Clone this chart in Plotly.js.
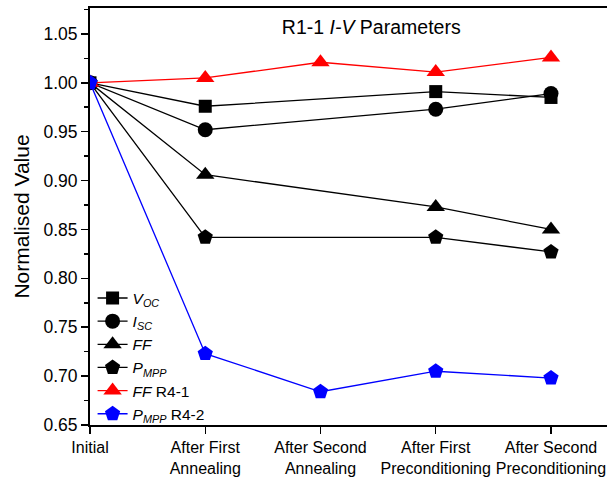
<!DOCTYPE html>
<html>
<head>
<meta charset="utf-8">
<script src="https://cdn.plot.ly/plotly-3.0.1.min.js"></script>
<style>html,body{margin:0;padding:0;background:#fff}#chart{width:607px;height:481px}</style>
</head>
<body>
<div id="chart"></div>
<script>
var categories = ["Initial", "After First<br>Annealing", "After Second<br>Annealing", "After First<br>Preconditioning", "After Second<br>Preconditioning"];
var voc = [1.000, 0.976, null, 0.991, 0.985];
var isc = [1.000, 0.952, null, 0.973, 0.989];
var ff = [1.000, 0.906, null, 0.873, 0.850];
var pmpp = [1.000, 0.842, null, 0.842, 0.827];
var ffR41 = [1.000, 1.005, 1.021, 1.011, 1.026];
var pmppR42 = [1.000, 0.723, 0.684, 0.705, 0.698];
var seriesNames = ["<i>V</i><sub><i>OC</i></sub>", "<i>I</i><sub><i>SC</i></sub>", "<i>FF</i>", "<i>P</i><sub><i>MPP</i></sub>", "<i>FF</i> R4-1", "<i>P</i><sub><i>MPP</i></sub> R4-2"];

var xs = categories.map(function(_, i){ return i; });
function tr(name, y, color, symbol, size){
  return {x: xs, y: y, name: name, type: 'scatter', mode: 'lines+markers', connectgaps: true,
    line: {color: color, width: 1.3}, marker: {color: color, symbol: symbol, size: size}, cliponaxis: true};
}
var data = [
  tr(seriesNames[0], voc, '#000000', 'square', 13),
  tr(seriesNames[1], isc, '#000000', 'circle', 15),
  tr(seriesNames[2], ff, '#000000', 'triangle-up', 16),
  tr(seriesNames[3], pmpp, '#000000', 'pentagon', 16),
  tr(seriesNames[4], ffR41, '#ff0000', 'triangle-up', 16),
  tr(seriesNames[5], pmppR42, '#0000ff', 'pentagon', 16)
];
var layout = {
  width: 607, height: 481,
  margin: {l: 90, r: 0, t: 8, b: 56},
  paper_bgcolor: '#fff', plot_bgcolor: '#fff',
  font: {family: 'Liberation Sans, Arial, sans-serif', color: '#000'},
  showlegend: true,
  title: {text: 'R1-1 <i>I-V</i> Parameters', font: {size: 19.5, color: '#000'}, x: 0.544, xref: 'paper', xanchor: 'center', y: 1 - 27/481, yref: 'container', yanchor: 'middle'},
  legend: {x: 0.005, xanchor: 'left', y: -0.013, yanchor: 'bottom', bgcolor: 'rgba(0,0,0,0)', font: {size: 15.5}, tracegroupgap: 0, itemwidth: 30},
  xaxis: {range: [0, 4.486], tickvals: xs, ticktext: categories, showgrid: false, zeroline: false,
    showline: true, linecolor: '#000', linewidth: 2, mirror: true, ticks: 'outside', ticklen: 7, tickwidth: 1.5, tickcolor: '#000',
    tickfont: {size: 16}},
  yaxis: {range: [0.65, 1.0765], dtick: 0.05, tick0: 0.65, tickformat: '.2f', showgrid: false, zeroline: false,
    showline: true, linecolor: '#000', linewidth: 2, ticks: 'outside', ticklen: 7, tickwidth: 1.5, tickcolor: '#000',
    tickfont: {size: 17.5},
    minor: {dtick: 0.025, ticks: 'outside', ticklen: 4, tickwidth: 1.5, tickcolor: '#000', showgrid: false},
    title: {text: 'Normalised Value', font: {size: 21}, standoff: 8}}
};
Plotly.newPlot('chart', data, layout, {displayModeBar: false, staticPlot: true});
</script>
</body>
</html>
